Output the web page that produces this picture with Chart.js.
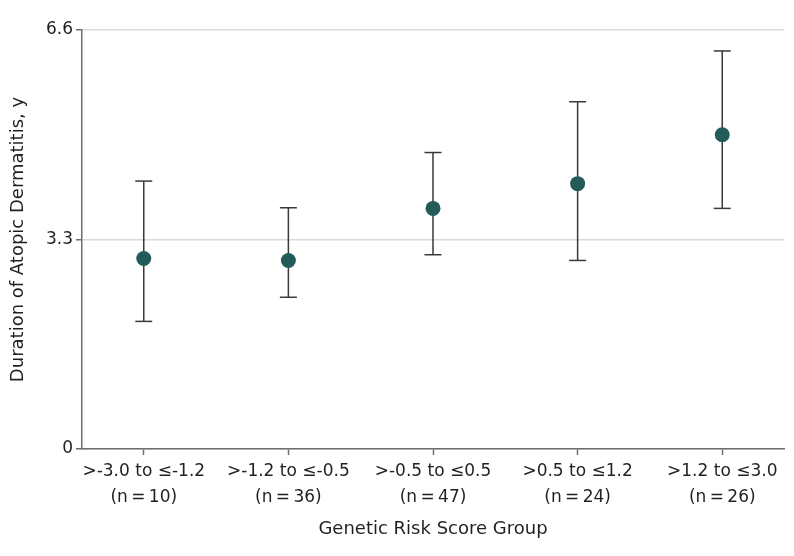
<!DOCTYPE html>
<html>
<head>
<meta charset="utf-8">
<script src="https://cdn.jsdelivr.net/npm/chart.js@4"></script>
<style>
  html, body { margin: 0; padding: 0; background: #fff; }
  #wrap { width: 794px; height: 556px; }
</style>
</head>
<body>
<div id="wrap"><canvas id="myChart" width="794" height="556"></canvas></div>
<script>
const categories = ['>-3.0 to \u2264-1.2', '>-1.2 to \u2264-0.5', '>-0.5 to \u22640.5', '>0.5 to \u22641.2', '>1.2 to \u22643.0'];
const groupSizes = [10, 36, 47, 24, 26];
const meanDuration = [3.00, 2.97, 3.79, 4.18, 4.95];
const ciLower = [2.01, 2.39, 3.06, 2.97, 3.79];
const ciUpper = [4.22, 3.80, 4.67, 5.47, 6.27];
const yTicks = [0, 3.3, 6.6];

const textColor = '#231f20';
const axisColor = '#6e6e6e';
const tickFont = { family: 'DejaVu Sans', size: 17, lineHeight: 1.55 };
const titleFont = { family: 'DejaVu Sans', size: 18 };

// vertical whiskers: low -> high, broken with a null point
const whiskers = [];
categories.forEach((c, i) => {
  whiskers.push({ x: i, y: ciLower[i] }, { x: i, y: ciUpper[i] }, { x: i, y: null });
});
const caps = [];
categories.forEach((c, i) => {
  caps.push({ x: i, y: ciLower[i] }, { x: i, y: ciUpper[i] });
});

const config = {
  type: 'scatter',
  data: {
    datasets: [
      {
        label: 'Mean',
        data: meanDuration.map((v, i) => ({ x: i, y: v })),
        pointRadius: 7.5,
        pointBackgroundColor: '#235b58',
        pointBorderColor: '#235b58',
        pointBorderWidth: 0
      },
      {
        label: 'Caps',
        data: caps,
        pointStyle: 'line',
        pointRadius: 8.5,
        pointBorderColor: '#3a3a3a',
        pointBorderWidth: 1.5
      },
      {
        label: 'CI',
        data: whiskers,
        showLine: true,
        spanGaps: false,
        borderColor: '#3a3a3a',
        borderWidth: 1.5,
        pointRadius: 0
      }
    ]
  },
  options: {
    responsive: false,
    animation: false,
    events: [],
    layout: { padding: { left: 0, right: 7, top: 30, bottom: 0 } },
    plugins: {
      legend: { display: false },
      tooltip: { enabled: false }
    },
    scales: {
      x: {
        type: 'linear',
        min: -0.427,
        max: 4.427,
        afterBuildTicks: (s) => { s.ticks = categories.map((c, i) => ({ value: i })); },
        afterFit: (s) => { s.height = 107; },
        border: { color: axisColor, width: 1.5 },
        grid: { drawOnChartArea: false, tickLength: 6, tickColor: axisColor, tickWidth: 1.5 },
        ticks: {
          color: textColor,
          font: tickFont,
          padding: 3,
          autoSkip: false,
          maxRotation: 0,
          callback: (v) => [categories[v], '(n\u2009=\u2009' + groupSizes[v] + ')']
        },
        title: {
          display: true,
          text: 'Genetic Risk Score Group',
          color: textColor,
          font: titleFont,
          padding: { top: 4, bottom: 16 }
        }
      },
      y: {
        min: 0,
        max: 6.6,
        afterBuildTicks: (s) => { s.ticks = yTicks.map(v => ({ value: v })); },
        afterFit: (s) => { s.width = 82; },
        border: { color: axisColor, width: 1.5 },
        grid: { color: '#d9d9d9', lineWidth: 1.5, tickLength: 6, tickColor: axisColor, tickWidth: 1.5 },
        ticks: {
          color: textColor,
          font: { family: 'DejaVu Sans', size: 17 },
          padding: 3,
          callback: (v) => (v === 0 ? '0' : v.toFixed(1))
        },
        title: {
          display: true,
          text: 'Duration of Atopic Dermatitis, y',
          color: textColor,
          font: titleFont,
          padding: { top: 8, bottom: 4 }
        }
      }
    }
  }
};

const myChart = new Chart(document.getElementById('myChart'), config);
</script>
</body>
</html>
